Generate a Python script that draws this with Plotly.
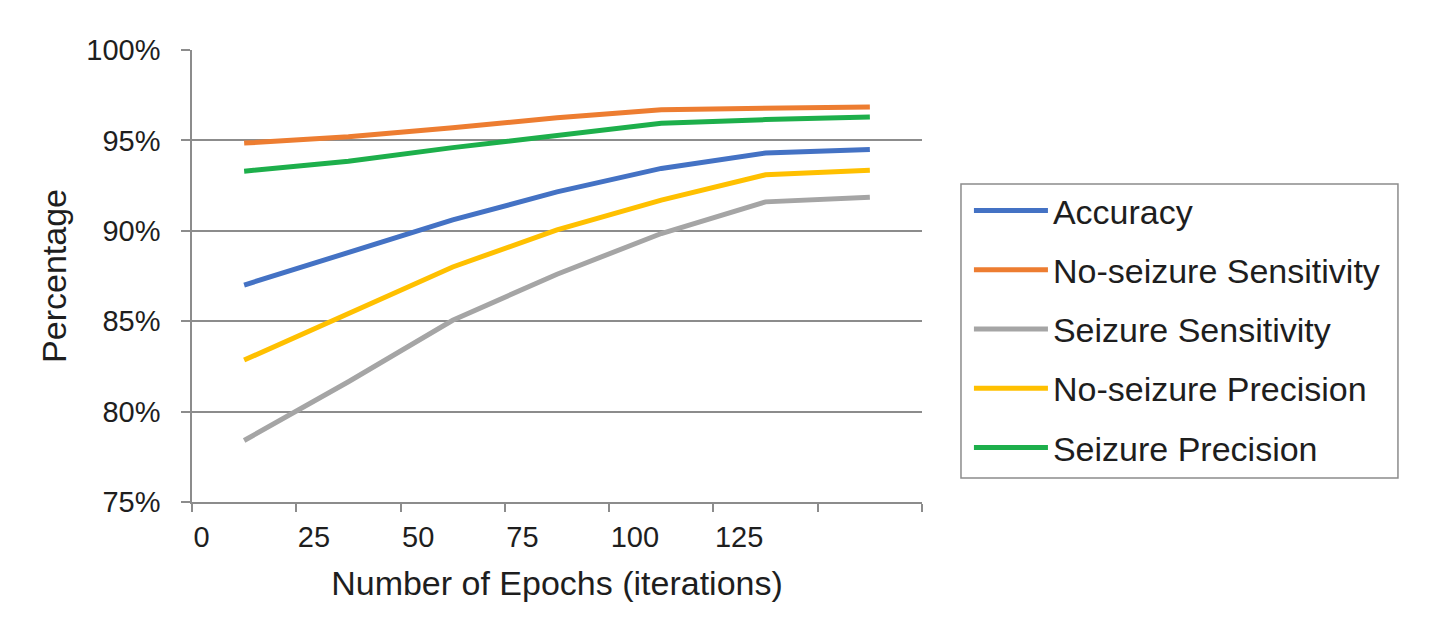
import plotly.graph_objects as go

# ---- data ----
categories = [0, 1, 2, 3, 4, 5, 6]
accuracy = [87.0, 88.8, 90.6, 92.15, 93.45, 94.3, 94.5]
noseizure_sensitivity = [94.85, 95.2, 95.7, 96.25, 96.7, 96.75, 96.85]
seizure_sensitivity = [78.4, 81.65, 85.05, 87.6, 89.85, 91.6, 91.85]
noseizure_precision = [82.85, 85.4, 88.0, 90.05, 91.7, 93.1, 93.35]
seizure_precision = [93.3, 93.85, 94.6, 95.25, 95.95, 96.15, 96.3]

tick_positions = [-0.5, 0.5, 1.5, 2.5, 3.5, 4.5, 5.5, 6.5]
tick_labels = ["0", "25", "50", "75", "100", "125", "", ""]
y_ticks = [75, 80, 85, 90, 95, 100]

series = [
    ("Accuracy", accuracy, "#4472C4"),
    ("No-seizure Sensitivity", noseizure_sensitivity, "#ED7D31"),
    ("Seizure Sensitivity", seizure_sensitivity, "#A5A5A5"),
    ("No-seizure Precision", noseizure_precision, "#FFC000"),
    ("Seizure Precision", seizure_precision, "#1DAF4B"),
]

FONT = "Liberation Sans, Arial, sans-serif"
TEXT = "#1e1e1e"
GRID = "#8c8c8c"

fig = go.Figure()
for name, vals, color in series:
    fig.add_trace(go.Scatter(
        x=categories, y=vals, name=name, mode="lines",
        line=dict(color=color, width=5),
        legendgroup=name,
    ))

# legend frame drawn as a shape (paper coords)
fig.add_shape(type="rect", xref="paper", yref="paper",
              x0=1.0534, x1=1.6520, y0=0.0531, y1=0.7035,
              line=dict(color="#8c8c8c", width=1.5), fillcolor="rgba(0,0,0,0)",
              layer="above")

fig.update_layout(
    width=1428, height=613,
    margin=dict(l=184, r=514, t=42, b=119),
    paper_bgcolor="white", plot_bgcolor="white",
    font=dict(family=FONT, color=TEXT, size=29),
    showlegend=True,
    legend=dict(
        x=1.0643, y=0.708, xanchor="left", yanchor="top",
        borderwidth=0, bgcolor="rgba(0,0,0,0)",
        font=dict(size=34, family=FONT, color=TEXT),
        traceorder="grouped", tracegroupgap=12,
        itemwidth=74,
    ),
    xaxis=dict(
        range=[-0.5, 6.5], tickmode="array",
        tickvals=tick_positions, ticktext=tick_labels,
        ticks="outside", ticklen=8, tickcolor=GRID, tickwidth=1.5,
        ticklabelposition="outside right", ticklabelstandoff=8,
        showline=True, linecolor=GRID, linewidth=1.5,
        showgrid=False, zeroline=False,
        tickfont=dict(size=29),
        title=dict(text="Number of Epochs (iterations)", font=dict(size=34), standoff=20),
    ),
    yaxis=dict(
        range=[75, 100], tickmode="array", tickvals=y_ticks,
        ticktext=[f"{v}%" for v in y_ticks],
        ticks="outside", ticklen=9, tickcolor=GRID, tickwidth=1.5,
        ticklabelstandoff=15,
        showline=True, linecolor=GRID, linewidth=1.5,
        showgrid=True, gridcolor=GRID, gridwidth=1.5,
        zeroline=False,
        tickfont=dict(size=29),
        title=dict(text="Percentage", font=dict(size=34), standoff=9),
    ),
)

fig.write_html("out.html")
